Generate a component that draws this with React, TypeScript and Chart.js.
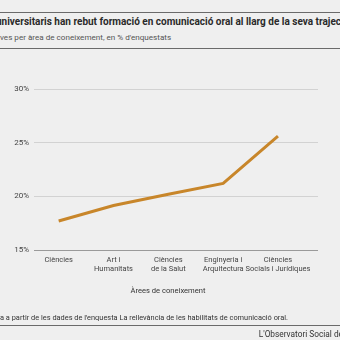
import React, { useEffect, useRef } from "react";
import { Chart, registerables } from "chart.js";

Chart.register(...registerables);

const categories: string[][] = [
  ["Ciències"],
  ["Art i", "Humanitats"],
  ["Ciències", "de la Salut"],
  ["Enginyeria i", "Arquitectura"],
  ["Ciències", "Socials i Jurídiques"],
];
const values: number[] = [17.7, 19.15, 20.2, 21.2, 25.6];
const yTicks: number[] = [15, 20, 25, 30];

const titleText = "universitaris han rebut formació en comunicació oral al llarg de la seva trajectòria";
const subtitleText = "ves per àrea de coneixement, en % d'enquestats";
const axisTitle = "Àrees de coneixement";
const sourceText = "a a partir de les dades de l'enquesta La rellevància de les habilitats de comunicació oral.";
const footerText = "L'Observatori Social de";

const FONT = "Roboto, 'Liberation Sans', sans-serif";

export default function App() {
  const ref = useRef<HTMLCanvasElement | null>(null);

  useEffect(() => {
    if (!ref.current) return;
    const chart = new Chart(ref.current, {
      type: "line",
      data: {
        datasets: [
          {
            data: values.map((v, i) => ({ x: i, y: v })),
            borderColor: "#c8862a",
            borderWidth: 3,
            pointRadius: 0,
            tension: 0,
            fill: false,
          },
        ],
      },
      options: {
        animation: false,
        responsive: false,
        maintainAspectRatio: false,
        layout: { padding: { left: 0, right: 22, top: 39, bottom: 0 } },
        plugins: { legend: { display: false }, tooltip: { enabled: false } },
        scales: {
          x: {
            type: "linear",
            min: -0.45,
            max: 4.73,
            afterBuildTicks: (scale: any) => {
              scale.ticks = categories.map((_, i) => ({ value: i }));
            },
            afterFit: (scale: any) => {
              scale.height = 50;
            },
            grid: { display: false, drawTicks: false },
            border: { display: false },
            ticks: {
              padding: 6,
              maxRotation: 0,
              autoSkip: false,
              color: "#444",
              font: { family: FONT, size: 7.5, lineHeight: 1.2 },
              callback: (v: any) => categories[Math.round(Number(v))] ?? "",
            },
          },
          y: {
            min: 15,
            max: 30,
            afterBuildTicks: (scale: any) => {
              scale.ticks = yTicks.map((v) => ({ value: v }));
            },
            afterFit: (scale: any) => {
              scale.width = 34;
            },
            border: { display: false },
            grid: {
              drawTicks: false,
              lineWidth: 1,
              color: (ctx: any) => (ctx.tick && ctx.tick.value === 15 ? "#9a9a9a" : "#d2d2d2"),
            },
            ticks: {
              padding: 5,
              color: "#444",
              font: { family: FONT, size: 8 },
              callback: (v: any) => `${v}%`,
            },
          },
        },
      },
    });
    return () => chart.destroy();
  }, []);

  const base: React.CSSProperties = {
    position: "absolute",
    whiteSpace: "nowrap",
    fontFamily: FONT,
    lineHeight: 1,
  };

  return (
    <div
      style={{
        position: "fixed",
        left: 0,
        top: 0,
        width: 340,
        height: 340,
        overflow: "hidden",
        background: "#efefef",
      }}
    >
      <div style={{ position: "absolute", left: 0, right: 0, top: 12, height: 1, background: "#6a6a6a" }} />
      <div style={{ ...base, left: -4, top: 17, fontSize: 10, fontWeight: 700, color: "#2a2a2a" }}>{titleText}</div>
      <div style={{ ...base, left: 0, top: 33, fontSize: 8.1, color: "#555" }}>{subtitleText}</div>
      <div style={{ position: "absolute", left: 0, right: 0, top: 48, height: 1, background: "#6a6a6a" }} />
      <canvas ref={ref} width={340} height={250} style={{ position: "absolute", left: 0, top: 50, width: 340, height: 250 }} />
      <div style={{ ...base, left: 168, top: 287, fontSize: 7.6, color: "#333", transform: "translateX(-50%)" }}>{axisTitle}</div>
      <div style={{ ...base, left: 0, top: 314, fontSize: 7.4, color: "#333" }}>{sourceText}</div>
      <div style={{ position: "absolute", left: 0, right: 0, top: 325, height: 1, background: "#6a6a6a" }} />
      <div style={{ ...base, right: -3, top: 330, fontSize: 8.3, color: "#333" }}>{footerText}</div>
    </div>
  );
}
